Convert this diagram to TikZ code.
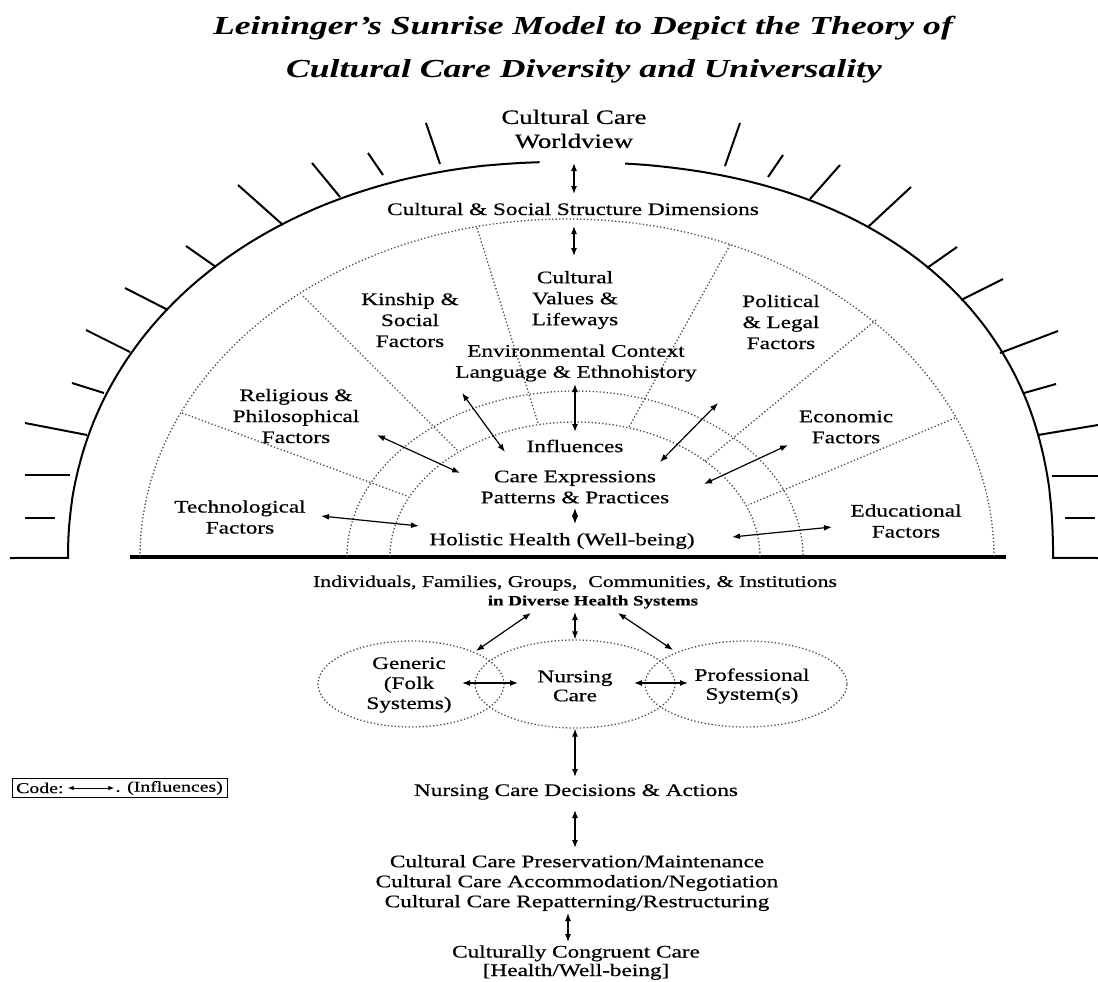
\documentclass[tikz,border=0pt]{standalone}
\usepackage{fontspec}
\setmainfont{Liberation Serif}[FakeStretch=1.32,FakeBold=0.6]
\newfontfamily\titlefont{Liberation Serif}[FakeStretch=1.37]
\usetikzlibrary{arrows.meta,shapes.geometric}
\begin{document}
\begin{tikzpicture}[x=1pt,y=-1pt,
  lbl/.style={font=\fontsize{17.6}{21}\selectfont, align=center, inner sep=0pt},
  big/.style={font=\fontsize{20.3}{24}\selectfont, align=center, inner sep=0pt},
  ttl/.style={font=\titlefont\bfseries\itshape\fontsize{26}{30}\selectfont, inner sep=0pt},
  dbl/.style={{Latex[length=8pt,width=6pt]}-{Latex[length=8pt,width=6pt]}, line width=1.2pt},
  dots/.style={line width=1.3pt, dash pattern=on 1.3pt off 2.2pt, black!70},
  ray/.style={line width=2pt},
  ell/.style={ellipse, draw, dots, inner sep=0pt},
]
\useasboundingbox (0,0) rectangle (1098,982);
\fill[white] (0,0) rectangle (1098,982);

% title
\node[ttl] (t1) at (583,28) {Leininger’s Sunrise Model to Depict the Theory of};
\node[ttl] (t2) at (584,71) {Cultural Care Diversity and Universality};

% outer sunrise arc (superellipse halves)
\draw[line width=2pt] (10,558) -- plot[domain=180:92.1, samples=90, variable=\t]
  ({561 - 493*pow(max(-cos(\t),0.0001),2/2.1)}, {558 - 396*pow(max(sin(\t),0.0001),2/2.1)});
\draw[line width=2pt] plot[domain=84.5:0, samples=90, variable=\t]
  ({561 + 492*pow(max(cos(\t),0.0001),2/2.3)}, {558 - 396*pow(max(sin(\t),0.0001),2/2.3)}) -- (1098,558);

% rays
\foreach \a/\b in {{(25,518)}/{(55,518)},{(25,475)}/{(70,475)},{(25,423)}/{(87,435)},{(72,383)}/{(104,393)},{(86,330)}/{(130,352)},{(125,288)}/{(168,310)},{(186,246)}/{(216,267)},{(238,185)}/{(283,225)},{(312,163)}/{(340,197)},{(368,153)}/{(383,175)},{(426,123)}/{(440,164)},
  {(740,123)}/{(725,166)},{(783,155)}/{(768,177)},{(840,165)}/{(810,199)},{(911,187)}/{(868,227)},{(957,247)}/{(927,268)},{(1003,279)}/{(961,300)},{(1058,331)}/{(1000,353)},{(1056,384)}/{(1024,393)},{(1098,425)}/{(1038,435)},{(1098,476)}/{(1052,476)},{(1095,518)}/{(1065,518)}}
  \draw[ray] \a -- \b;

% base line
\draw[line width=4.5pt] (130,557) -- (1006,557);

% dotted arcs
\draw[dots] (140,557) arc[start angle=180, end angle=360, x radius=427, y radius=338];
\draw[dots] (347,557) arc[start angle=180, end angle=360, x radius=228, y radius=166];
\draw[dots] (390,557) arc[start angle=180, end angle=360, x radius=185, y radius=135];

% dividers
\draw[dots] (182,413) -- (407,496);
\draw[dots] (303,296) -- (458,451);
\draw[dots] (477,228) -- (538,423);
\draw[dots] (730,245) -- (629,427);
\draw[dots] (876,320) -- (704,462);
\draw[dots] (955,418) -- (748,505);

% labels in the sunrise
\node[big] (ccw) at (574,129) {Cultural Care\\Worldview};
\node[lbl] (csd) at (573,209) {Cultural \& Social Structure Dimensions};
\node[lbl] (cvl) at (575,300) {Cultural\\Values \&\\Lifeways};
\node[lbl] (kin) at (410,320) {Kinship \&\\Social\\Factors};
\node[lbl] (pol) at (781,322) {Political\\\& Legal\\Factors};
\node[lbl] (env) at (576,363) {Environmental Context\\Language \& Ethnohistory};
\node[lbl] (rel) at (296,416) {Religious \&\\Philosophical\\Factors};
\node[lbl] (eco) at (846,427) {Economic\\Factors};
\node[lbl] (infl) at (575,446) {Influences};
\node[lbl] (care) at (575,487) {Care Expressions\\Patterns \& Practices};
\node[lbl] (tech) at (240,517) {Technological\\Factors};
\node[lbl] (edu) at (906,521) {Educational\\Factors};
\node[lbl] (hh) at (562,541) {Holistic Health (Well-being)};

% arrows in the sunrise
\coordinate (w1) at (574,163); \coordinate (w2) at (574,194);
\coordinate (s1) at (574,226); \coordinate (s2) at (574,256);
\coordinate (e1) at (575,384); \coordinate (e2) at (575,432);
\coordinate (h1) at (575,508); \coordinate (h2) at (575,524);
\coordinate (r1) at (377,435); \coordinate (r2) at (460,473);
\coordinate (v1) at (462,393); \coordinate (v2) at (505,452);
\coordinate (k1) at (321,516); \coordinate (k2) at (419,526);
\coordinate (p1) at (718,403); \coordinate (p2) at (660,462);
\coordinate (c1) at (788,445); \coordinate (c2) at (704,484);
\coordinate (d1) at (832,527); \coordinate (d2) at (732,537);
\foreach \u/\v in {w1/w2,s1/s2,e1/e2,h1/h2,r1/r2,v1/v2,k1/k2,p1/p2,c1/c2,d1/d2}
  \draw[dbl] (\u) -- (\v);

% lower part
\node[font=\fontsize{16.5}{20}\selectfont, inner sep=0pt] (ind) at (575,583) {Individuals, Families, Groups,\ \ Communities, \& Institutions};
\node[font=\bfseries\fontsize{14.3}{17}\selectfont, inner sep=0pt] (ids) at (593,602) {in Diverse Health Systems};

\node[ell, minimum width=186pt, minimum height=86pt] (genE) at (411,684) {};
\node[ell, minimum width=200pt, minimum height=88pt] (ncE) at (575,684) {};
\node[ell, minimum width=202pt, minimum height=86pt] (profE) at (746,684) {};
\node[lbl, font=\fontsize{17.6}{20}\selectfont] (gen) at (409,685) {Generic\\(Folk\\Systems)};
\node[lbl, font=\fontsize{17.6}{19}\selectfont] (nc) at (575,686) {Nursing\\Care};
\node[lbl, font=\fontsize{17.6}{19}\selectfont] (prof) at (752,686) {Professional\\System(s)};

\coordinate (a1) at (531,613); \coordinate (a2) at (476,651);
\coordinate (b1) at (575,612);
\coordinate (f1) at (618,613); \coordinate (f2) at (673,650);
\coordinate (g1) at (462,683); \coordinate (g2) at (518,683);
\coordinate (q1) at (634,683); \coordinate (q2) at (688,683);
\coordinate (n0) at (575,777);
\draw[dbl] (a1) -- (a2);
\draw[dbl] (b1) -- (ncE.north);
\draw[dbl] (f1) -- (f2);
\draw[dbl] (g1) -- (g2);
\draw[dbl] (q1) -- (q2);
\draw[dbl] (ncE.south) -- (n0);

\node[lbl] (ncd) at (576,792) {Nursing Care Decisions \& Actions};
\node[lbl, font=\fontsize{17.6}{20}\selectfont] (ccp) at (577,883) {Cultural Care Preservation/Maintenance\\Cultural Care Accommodation/Negotiation\\Cultural Care Repatterning/Restructuring};
\coordinate (n1) at (575,810); \coordinate (n2) at (575,848);
\draw[dbl] (n1) -- (n2);
\coordinate (m1) at (568,913); \coordinate (m2) at (568,942);
\draw[dbl] (m1) -- (m2);
\node[lbl, font=\fontsize{17.6}{18.5}\selectfont, anchor=south] (ccc) at (576,980) {Culturally Congruent Care\\{[}Health/Well-being{]}};

% code box
\draw[line width=1pt] (12,778) rectangle (227,797);
\node[font=\fontsize{15}{17}\selectfont, inner sep=0pt, anchor=west] (codeA) at (16,788) {Code:};
\node[font=\fontsize{15}{17}\selectfont, inner sep=0pt, anchor=east] (codeB) at (223,788) {. (Influences)};
\draw[{Latex[length=6pt,width=4.5pt]}-{Latex[length=6pt,width=4.5pt]}, line width=1pt] ([xshift=4pt]codeA.east) -- ([xshift=-1pt]codeB.west);
\end{tikzpicture}
\end{document}
